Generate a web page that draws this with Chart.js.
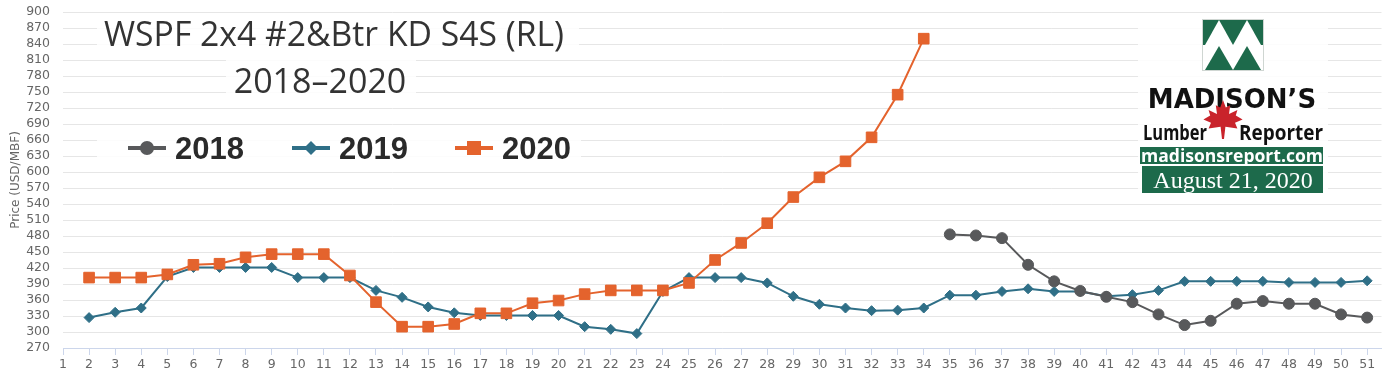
<!DOCTYPE html>
<html>
<head>
<meta charset="utf-8">
<script src="https://cdn.jsdelivr.net/npm/chart.js@4/dist/chart.umd.min.js"></script>
<style>
  body { margin: 0; background: #fff; }
  #wrap { width: 1390px; height: 385px; }
</style>
</head>
<body>
<div id="wrap"><canvas id="priceChart" width="1390" height="385"></canvas></div>
<script>
// week numbers on the x axis
const weeks = [1, 2, 3, 4, 5, 6, 7, 8, 9, 10, 11, 12, 13, 14, 15, 16, 17, 18, 19, 20,
  21, 22, 23, 24, 25, 26, 27, 28, 29, 30, 31, 32, 33, 34, 35, 36, 37, 38, 39, 40,
  41, 42, 43, 44, 45, 46, 47, 48, 49, 50, 51];

// prices, USD/MBF, one entry per week (null = no value)
const price2018 = [null, null, null, null, null, null, null, null, null, null,
  null, null, null, null, null, null, null, null, null, null,
  null, null, null, null, null, null, null, null, null, null,
  null, null, null, null, 483, 481, 476, 426, 395, 377,
  366, 356, 333, 313, 321, 353, 358, 353, 353, 333, 327];

const price2019 = [null, 327, 337, 345, 404, 421, 421, 421, 421, 402,
  402, 402, 378, 365, 347, 336, 331, 331, 331, 331,
  310, 305, 297, 376, 402, 402, 402, 392, 367, 352,
  345, 340, 341, 345, 369, 369, 376, 381, 376, 376,
  367, 370, 378, 395, 395, 395, 395, 393, 393, 393, 396];

const price2020 = [null, 402, 402, 402, 408, 426, 428, 440, 446, 446,
  446, 406, 356, 310, 310, 315, 335, 335, 354, 359,
  371, 378, 378, 378, 392, 435, 467, 504, 553, 590,
  620, 665, 745, 850, null, null, null, null, null, null,
  null, null, null, null, null, null, null, null, null, null, null];

const yTicks = [270, 300, 330, 360, 390, 420, 450, 480, 510, 540, 570, 600, 630,
  660, 690, 720, 750, 780, 810, 840, 870, 900];

const seriesNames = ['2018', '2019', '2020'];
const colors = ['#58595b', '#2f6f87', '#e4632d'];

function toPoints(values) {
  return weeks.map((w, i) => ({ x: w, y: values[i] }));
}

function drawMarker(ctx, style, x, y, color) {
  ctx.save();
  ctx.fillStyle = color;
  ctx.beginPath();
  if (style === 'circle') {
    ctx.arc(x, y, 7, 0, Math.PI * 2);
  } else if (style === 'diamond') {
    ctx.moveTo(x, y - 7); ctx.lineTo(x + 7, y); ctx.lineTo(x, y + 7); ctx.lineTo(x - 7, y);
    ctx.closePath();
  } else {
    ctx.rect(x - 7, y - 7, 14, 14);
  }
  ctx.fill();
  ctx.restore();
}

function drawLeaf(ctx, cx, cy, s) {
  const half = [[0, -1], [0.14, -0.62], [0.36, -0.74], [0.3, -0.3], [0.72, -0.5],
    [0.64, -0.22], [0.98, -0.02], [0.6, 0.14], [0.72, 0.42], [0.12, 0.34], [0.05, 0.95]];
  const pts = half.concat(half.slice().reverse().map(p => [-p[0], p[1]]));
  ctx.save();
  ctx.fillStyle = '#c9232b';
  ctx.beginPath();
  pts.forEach((p, i) => {
    const px = cx + p[0] * s, py = cy + p[1] * s;
    if (i === 0) ctx.moveTo(px, py); else ctx.lineTo(px, py);
  });
  ctx.closePath();
  ctx.fill();
  ctx.restore();
}

const overlayPlugin = {
  id: 'overlay',
  afterDraw(chart) {
    const ctx = chart.ctx;
    ctx.save();

    // faded boxes behind the pasted title, legend and logo
    ctx.fillStyle = 'rgba(255,255,255,0.85)';
    ctx.fillRect(97, 17, 482, 41);
    ctx.fillRect(226, 60, 190, 38);
    ctx.fillRect(97, 126, 484, 42);
    ctx.fillRect(1138, 15, 190, 180);

    // title
    ctx.fillStyle = '#333';
    ctx.textAlign = 'center';
    ctx.textBaseline = 'alphabetic';
    ctx.font = '34px "Open Sans"';
    ctx.fillText('WSPF 2x4 #2&Btr KD S4S (RL)', 334, 46, 460);
    ctx.fillText('2018\u20132020', 320, 93);

    // legend
    const legendX = [128, 292, 455];
    const markers = ['circle', 'diamond', 'square'];
    seriesNames.forEach((name, i) => {
      const x0 = legendX[i];
      ctx.strokeStyle = colors[i];
      ctx.lineWidth = 4;
      ctx.beginPath();
      ctx.moveTo(x0, 148);
      ctx.lineTo(x0 + 38, 148);
      ctx.stroke();
      drawMarker(ctx, markers[i], x0 + 19, 148, colors[i]);
      ctx.fillStyle = '#2a2a2a';
      ctx.textAlign = 'left';
      ctx.font = 'bold 31px "Liberation Sans"';
      ctx.fillText(name, x0 + 47, 159);
    });

    // logo: M mark
    const green = '#1d6a4b';
    ctx.fillStyle = green;
    ctx.fillRect(1203, 19, 60, 26);
    ctx.fillStyle = '#fff';
    [[1205, 1233], [1233, 1261]].forEach(([a, b]) => {
      ctx.beginPath();
      ctx.moveTo(a, 45); ctx.lineTo((a + b) / 2, 20); ctx.lineTo(b, 45); ctx.closePath();
      ctx.fill();
    });
    ctx.fillStyle = green;
    [[1205, 1233], [1233, 1261]].forEach(([a, b]) => {
      ctx.beginPath();
      ctx.moveTo(a, 70); ctx.lineTo((a + b) / 2, 46); ctx.lineTo(b, 70); ctx.closePath();
      ctx.fill();
    });
    ctx.strokeStyle = '#cfd6d2';
    ctx.lineWidth = 1;
    ctx.strokeRect(1202.5, 19.5, 61, 51);

    ctx.fillStyle = '#111';
    ctx.textAlign = 'center';
    ctx.font = '900 26px "DejaVu Sans"';
    ctx.fillText('MADISON\u2019S', 1232, 108, 178);

    drawLeaf(ctx, 1223, 120, 20);

    ctx.fillStyle = '#111';
    ctx.font = 'bold 21px "Open Sans"';
    ctx.textAlign = 'right';
    ctx.fillText('Lumber', 1207, 140, 64);
    ctx.textAlign = 'left';
    ctx.fillText('Reporter', 1239, 140, 84);

    ctx.fillStyle = green;
    ctx.fillRect(1140, 147, 183, 17);
    ctx.fillRect(1142, 166, 181, 27);
    ctx.fillStyle = '#fff';
    ctx.textAlign = 'center';
    ctx.font = 'bold 18px "Open Sans"';
    ctx.fillText('madisonsreport.com', 1232, 162, 182);
    ctx.font = '24px "Liberation Serif"';
    ctx.fillText('August 21, 2020', 1233, 188, 176);

    ctx.restore();
  }
};

const ctx = document.getElementById('priceChart').getContext('2d');
new Chart(ctx, {
  type: 'line',
  data: {
    datasets: [
      {
        label: seriesNames[0],
        data: toPoints(price2018),
        borderColor: colors[0],
        backgroundColor: colors[0],
        pointStyle: 'circle',
        pointRadius: 5.5,
        order: 1
      },
      {
        label: seriesNames[1],
        data: toPoints(price2019),
        borderColor: colors[1],
        backgroundColor: colors[1],
        pointStyle: 'rectRot',
        pointRadius: 5,
        order: 2
      },
      {
        label: seriesNames[2],
        data: toPoints(price2020),
        borderColor: colors[2],
        backgroundColor: colors[2],
        pointStyle: 'rect',
        pointRadius: 7.5,
        order: 0
      }
    ]
  },
  options: {
    responsive: false,
    animation: false,
    spanGaps: false,
    layout: { padding: { left: 0, right: 7, top: 12, bottom: 0 } },
    elements: {
      line: { borderWidth: 2, tension: 0 },
      point: { borderWidth: 1, hoverRadius: 6 }
    },
    plugins: {
      legend: { display: false },
      tooltip: { enabled: false }
    },
    scales: {
      x: {
        type: 'linear',
        min: 1,
        max: 51.55,
        afterBuildTicks: scale => { scale.ticks = weeks.map(w => ({ value: w })); },
        afterFit: scale => {
          scale.height = 37;
          scale.paddingLeft = 0;
          scale.paddingRight = 0;
        },
        ticks: {
          stepSize: 1,
          autoSkip: false,
          maxRotation: 0,
          padding: 2,
          color: '#666',
          font: { family: 'DejaVu Sans', size: 12.5 }
        },
        grid: { drawOnChartArea: false, color: '#ccd6eb', tickLength: 7 },
        border: { color: '#ccd6eb' }
      },
      y: {
        min: 270,
        max: 900,
        afterBuildTicks: scale => { scale.ticks = yTicks.map(v => ({ value: v })); },
        afterFit: scale => {
          scale.width = 63;
          scale.paddingTop = 0;
          scale.paddingBottom = 0;
        },
        ticks: {
          autoSkip: false,
          padding: 13,
          color: '#666',
          font: { family: 'DejaVu Sans', size: 12.5 }
        },
        grid: { color: '#e6e6e6', drawTicks: false },
        border: { display: false },
        title: {
          display: true,
          text: 'Price (USD/MBF)',
          color: '#666',
          padding: { top: 9, bottom: 0 },
          font: { family: 'DejaVu Sans', size: 12 }
        }
      }
    }
  },
  plugins: [overlayPlugin]
});
</script>
</body>
</html>
